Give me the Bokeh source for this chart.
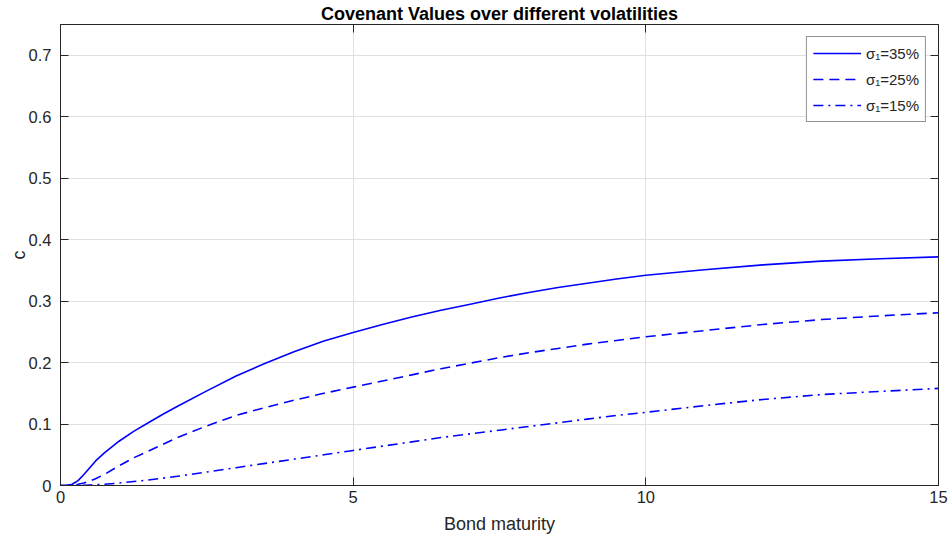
from bokeh.plotting import figure
from bokeh.models import FixedTicker, LinearAxis, Range1d, Legend, LegendItem
from bokeh.embed import file_html
from bokeh.resources import INLINE

# ---- data ----
maturity = [0, 0.1, 0.2, 0.3, 0.4, 0.5, 0.6, 0.75, 1, 1.25, 1.5, 1.75, 2, 2.5, 3,
            3.5, 4, 4.5, 5, 5.5, 6, 6.5, 7, 7.5, 8, 8.5, 9, 9.5, 10, 11, 12, 13, 14, 15]
c_35 = [0, 0, 0.002, 0.008, 0.018, 0.029, 0.040, 0.053, 0.072, 0.088, 0.102, 0.116,
        0.129, 0.154, 0.178, 0.199, 0.218, 0.235, 0.249, 0.262, 0.274, 0.285, 0.295,
        0.305, 0.314, 0.322, 0.329, 0.336, 0.342, 0.351, 0.359, 0.365, 0.369, 0.372]
c_25 = [0, 0, 0.0005, 0.002, 0.004, 0.007, 0.011, 0.018, 0.032, 0.045, 0.056, 0.067,
        0.078, 0.097, 0.114, 0.127, 0.139, 0.150, 0.160, 0.170, 0.180, 0.190, 0.199,
        0.208, 0.216, 0.223, 0.230, 0.236, 0.242, 0.252, 0.262, 0.270, 0.276, 0.281]
c_15 = [0, 0, 0, 0, 0.0002, 0.0007, 0.0012, 0.002, 0.004, 0.0065, 0.009, 0.012,
        0.015, 0.022, 0.029, 0.036, 0.043, 0.050, 0.057, 0.064, 0.071, 0.078, 0.084,
        0.090, 0.096, 0.102, 0.108, 0.114, 0.119, 0.130, 0.140, 0.148, 0.153, 0.158]
series_labels = ["σ₁=35%", "σ₁=25%", "σ₁=15%"]
x_ticks = [0, 5, 10, 15]
y_ticks = [0, 0.1, 0.2, 0.3, 0.4, 0.5, 0.6, 0.7]
y_tick_labels = ["0", "0.1", "0.2", "0.3", "0.4", "0.5", "0.6", "0.7"]

FONT = "Liberation Sans"
AXC = "#262626"

p = figure(width=950, height=543, output_backend="svg", toolbar_location=None,
           x_range=Range1d(0, 15), y_range=Range1d(0, 0.75),
           min_border_left=60, min_border_right=12, min_border_top=24,
           min_border_bottom=58)
p.title.text = "Covenant Values over different volatilities"
p.title.text_font = FONT
p.title.text_font_size = "18px"
p.title.text_font_style = "bold"
p.title.align = "center"
p.title.text_color = "#000000"
p.title.standoff = 1
p.outline_line_color = AXC
p.outline_line_width = 1

def style_axis(ax):
    ax.axis_line_color = AXC
    ax.major_tick_line_color = AXC
    ax.minor_tick_line_color = AXC
    ax.major_tick_in = 8
    ax.major_tick_out = 0
    ax.minor_tick_in = 8
    ax.minor_tick_out = 0
    ax.major_label_text_font = FONT
    ax.major_label_text_color = AXC
    ax.major_label_text_font_size = "16.5px"

style_axis(p.xaxis[0])
style_axis(p.yaxis[0])
p.xaxis[0].minor_tick_line_color = None
p.yaxis[0].minor_tick_line_color = None
p.xaxis[0].ticker = FixedTicker(ticks=x_ticks)
p.yaxis[0].ticker = FixedTicker(ticks=y_ticks)
p.yaxis[0].major_label_overrides = dict(zip(y_ticks, y_tick_labels))
p.xaxis[0].major_label_standoff = 5
p.yaxis[0].major_label_standoff = 9
p.xaxis[0].axis_label = "Bond maturity"
p.yaxis[0].axis_label = "c"
for ax in (p.xaxis[0], p.yaxis[0]):
    ax.axis_label_text_font = FONT
    ax.axis_label_text_font_size = "18px"
    ax.axis_label_text_font_style = "normal"
    ax.axis_label_text_color = AXC
p.xaxis[0].axis_label_standoff = 8
p.yaxis[0].axis_label_standoff = -3

# box ticks on top and right (tick marks only, no labels)
top = LinearAxis(ticker=FixedTicker(ticks=[], minor_ticks=x_ticks))
right = LinearAxis(ticker=FixedTicker(ticks=[], minor_ticks=y_ticks))
for ax in (top, right):
    style_axis(ax)
    ax.major_label_standoff = 0
p.add_layout(top, "above")
p.add_layout(right, "right")

p.grid.grid_line_color = "#e0e0e0"
p.grid.grid_line_width = 1
p.xgrid.ticker = FixedTicker(ticks=x_ticks)
p.ygrid.ticker = FixedTicker(ticks=y_ticks)

BLUE = "#0000ff"
r1 = p.line(maturity, c_35, line_color=BLUE, line_width=1.6)
r2 = p.line(maturity, c_25, line_color=BLUE, line_width=1.6, line_dash="10 6")
r3 = p.line(maturity, c_15, line_color=BLUE, line_width=1.6, line_dash="10 5 2 5")

legend = Legend(items=[LegendItem(label=series_labels[0], renderers=[r1]),
                       LegendItem(label=series_labels[1], renderers=[r2]),
                       LegendItem(label=series_labels[2], renderers=[r3])],
                location="top_right")
legend.margin = 12
legend.padding = 6
legend.spacing = 6
legend.glyph_width = 48
legend.glyph_height = 20
legend.label_height = 20
legend.label_standoff = 5
legend.label_text_font = FONT
legend.label_text_font_size = "15px"
legend.label_text_color = AXC
legend.border_line_color = AXC
legend.border_line_width = 1
legend.background_fill_color = "white"
legend.background_fill_alpha = 1
p.add_layout(legend, "center")

open("out.html", "w").write(file_html(p, INLINE))
